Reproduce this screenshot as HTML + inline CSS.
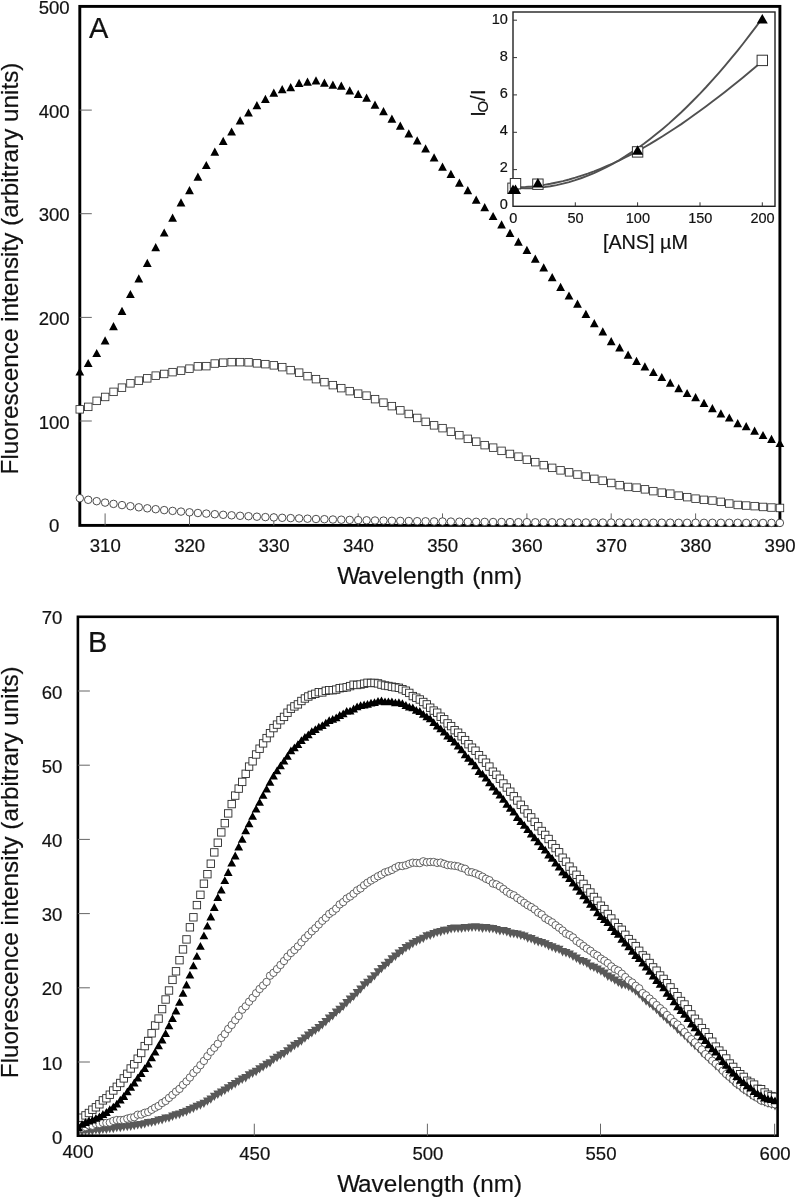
<!DOCTYPE html>
<html><head><meta charset="utf-8"><title>Fluorescence spectra</title>
<style>html,body{margin:0;padding:0;background:#fff}body{width:797px;height:1199px;overflow:hidden;font-family:"Liberation Sans",sans-serif}text{stroke:#111;stroke-width:.2px}</style></head>
<body>
<svg width="797" height="1199" viewBox="0 0 797 1199" style="display:block;will-change:transform" font-family="'Liberation Sans', sans-serif" fill="#111">
<rect width="797" height="1199" fill="#fff"/>
<rect x="79.8" y="6.4" width="700.1" height="519.0" fill="none" stroke="#000" stroke-width="2.9"/>
<path d="M79.8 421.0h12M79.8 317.4h12M79.8 213.7h12M79.8 110.1h12M105.1 525.4v-12M189.5 525.4v-12M273.8 525.4v-12M358.2 525.4v-12M442.5 525.4v-12M526.9 525.4v-12M611.2 525.4v-12M695.6 525.4v-12" stroke="#666" stroke-width="1" fill="none"/>
<g font-size="18.6px">
<text x="54.2" y="532.2" text-anchor="middle">0</text>
<text x="54.2" y="428.6" text-anchor="middle">100</text>
<text x="54.2" y="325.0" text-anchor="middle">200</text>
<text x="54.2" y="221.3" text-anchor="middle">300</text>
<text x="54.2" y="117.7" text-anchor="middle">400</text>
<text x="54.2" y="14.1" text-anchor="middle">500</text>
<text x="105.3" y="552" text-anchor="middle">310</text>
<text x="189.7" y="552" text-anchor="middle">320</text>
<text x="274.0" y="552" text-anchor="middle">330</text>
<text x="358.4" y="552" text-anchor="middle">340</text>
<text x="442.7" y="552" text-anchor="middle">350</text>
<text x="527.1" y="552" text-anchor="middle">360</text>
<text x="611.4" y="552" text-anchor="middle">370</text>
<text x="695.8" y="552" text-anchor="middle">380</text>
<text x="780.1" y="552" text-anchor="middle">390</text>
</g>
<text x="337.2" y="584.4" font-size="24.3px">W<tspan dx="-2.2" letter-spacing="0.12">avelength</tspan><tspan dx="1.1"> (nm)</tspan></text>
<text transform="translate(17.9 474.4) rotate(-90)" font-size="24.3px">Fluorescence intensity (arbitrary units)</text>
<text x="89" y="37.6" font-size="29px">A</text>
<g fill="#fff" stroke="#2e2e2e" stroke-width="0.85">
<circle cx="79.8" cy="498.2" r="3.75"/>
<circle cx="88.2" cy="499.8" r="3.75"/>
<circle cx="96.7" cy="501.2" r="3.75"/>
<circle cx="105.1" cy="502.6" r="3.75"/>
<circle cx="113.5" cy="503.9" r="3.75"/>
<circle cx="122.0" cy="505.1" r="3.75"/>
<circle cx="130.4" cy="506.2" r="3.75"/>
<circle cx="138.8" cy="507.3" r="3.75"/>
<circle cx="147.3" cy="508.3" r="3.75"/>
<circle cx="155.7" cy="509.2" r="3.75"/>
<circle cx="164.2" cy="510.1" r="3.75"/>
<circle cx="172.6" cy="510.9" r="3.75"/>
<circle cx="181.0" cy="511.6" r="3.75"/>
<circle cx="189.5" cy="512.3" r="3.75"/>
<circle cx="197.9" cy="513.0" r="3.75"/>
<circle cx="206.3" cy="513.6" r="3.75"/>
<circle cx="214.8" cy="514.2" r="3.75"/>
<circle cx="223.2" cy="514.8" r="3.75"/>
<circle cx="231.6" cy="515.3" r="3.75"/>
<circle cx="240.1" cy="515.8" r="3.75"/>
<circle cx="248.5" cy="516.2" r="3.75"/>
<circle cx="256.9" cy="516.7" r="3.75"/>
<circle cx="265.4" cy="517.1" r="3.75"/>
<circle cx="273.8" cy="517.4" r="3.75"/>
<circle cx="282.2" cy="517.8" r="3.75"/>
<circle cx="290.7" cy="518.1" r="3.75"/>
<circle cx="299.1" cy="518.4" r="3.75"/>
<circle cx="307.5" cy="518.7" r="3.75"/>
<circle cx="316.0" cy="519.0" r="3.75"/>
<circle cx="324.4" cy="519.2" r="3.75"/>
<circle cx="332.9" cy="519.5" r="3.75"/>
<circle cx="341.3" cy="519.7" r="3.75"/>
<circle cx="349.7" cy="519.9" r="3.75"/>
<circle cx="358.2" cy="520.1" r="3.75"/>
<circle cx="366.6" cy="520.3" r="3.75"/>
<circle cx="375.0" cy="520.5" r="3.75"/>
<circle cx="383.5" cy="520.6" r="3.75"/>
<circle cx="391.9" cy="520.8" r="3.75"/>
<circle cx="400.3" cy="520.9" r="3.75"/>
<circle cx="408.8" cy="521.0" r="3.75"/>
<circle cx="417.2" cy="521.2" r="3.75"/>
<circle cx="425.6" cy="521.3" r="3.75"/>
<circle cx="434.1" cy="521.4" r="3.75"/>
<circle cx="442.5" cy="521.5" r="3.75"/>
<circle cx="450.9" cy="521.6" r="3.75"/>
<circle cx="459.4" cy="521.7" r="3.75"/>
<circle cx="467.8" cy="521.8" r="3.75"/>
<circle cx="476.2" cy="521.8" r="3.75"/>
<circle cx="484.7" cy="521.9" r="3.75"/>
<circle cx="493.1" cy="522.0" r="3.75"/>
<circle cx="501.6" cy="522.0" r="3.75"/>
<circle cx="510.0" cy="522.1" r="3.75"/>
<circle cx="518.4" cy="522.2" r="3.75"/>
<circle cx="526.9" cy="522.2" r="3.75"/>
<circle cx="535.3" cy="522.3" r="3.75"/>
<circle cx="543.7" cy="522.3" r="3.75"/>
<circle cx="552.2" cy="522.3" r="3.75"/>
<circle cx="560.6" cy="522.4" r="3.75"/>
<circle cx="569.0" cy="522.4" r="3.75"/>
<circle cx="577.5" cy="522.5" r="3.75"/>
<circle cx="585.9" cy="522.5" r="3.75"/>
<circle cx="594.3" cy="522.5" r="3.75"/>
<circle cx="602.8" cy="522.6" r="3.75"/>
<circle cx="611.2" cy="522.6" r="3.75"/>
<circle cx="619.6" cy="522.6" r="3.75"/>
<circle cx="628.1" cy="522.6" r="3.75"/>
<circle cx="636.5" cy="522.7" r="3.75"/>
<circle cx="644.9" cy="522.7" r="3.75"/>
<circle cx="653.4" cy="522.7" r="3.75"/>
<circle cx="661.8" cy="522.7" r="3.75"/>
<circle cx="670.2" cy="522.7" r="3.75"/>
<circle cx="678.7" cy="522.8" r="3.75"/>
<circle cx="687.1" cy="522.8" r="3.75"/>
<circle cx="695.6" cy="522.8" r="3.75"/>
<circle cx="704.0" cy="522.8" r="3.75"/>
<circle cx="712.4" cy="522.8" r="3.75"/>
<circle cx="720.9" cy="522.8" r="3.75"/>
<circle cx="729.3" cy="522.8" r="3.75"/>
<circle cx="737.7" cy="522.8" r="3.75"/>
<circle cx="746.2" cy="522.9" r="3.75"/>
<circle cx="754.6" cy="522.9" r="3.75"/>
<circle cx="763.0" cy="522.9" r="3.75"/>
<circle cx="771.5" cy="522.9" r="3.75"/>
<circle cx="779.9" cy="522.9" r="3.75"/>
<rect x="76.0" y="405.6" width="7.5" height="7.5"/>
<rect x="84.5" y="403.1" width="7.5" height="7.5"/>
<rect x="92.9" y="397.1" width="7.5" height="7.5"/>
<rect x="101.4" y="393.2" width="7.5" height="7.5"/>
<rect x="109.8" y="388.1" width="7.5" height="7.5"/>
<rect x="118.2" y="383.9" width="7.5" height="7.5"/>
<rect x="126.7" y="379.6" width="7.5" height="7.5"/>
<rect x="135.1" y="376.9" width="7.5" height="7.5"/>
<rect x="143.5" y="374.6" width="7.5" height="7.5"/>
<rect x="152.0" y="371.9" width="7.5" height="7.5"/>
<rect x="160.4" y="370.2" width="7.5" height="7.5"/>
<rect x="168.8" y="368.4" width="7.5" height="7.5"/>
<rect x="177.3" y="366.9" width="7.5" height="7.5"/>
<rect x="185.7" y="364.9" width="7.5" height="7.5"/>
<rect x="194.1" y="362.6" width="7.5" height="7.5"/>
<rect x="202.6" y="362.4" width="7.5" height="7.5"/>
<rect x="211.0" y="359.8" width="7.5" height="7.5"/>
<rect x="219.4" y="358.9" width="7.5" height="7.5"/>
<rect x="227.9" y="358.4" width="7.5" height="7.5"/>
<rect x="236.3" y="358.4" width="7.5" height="7.5"/>
<rect x="244.8" y="358.6" width="7.5" height="7.5"/>
<rect x="253.2" y="359.6" width="7.5" height="7.5"/>
<rect x="261.6" y="360.4" width="7.5" height="7.5"/>
<rect x="270.1" y="361.6" width="7.5" height="7.5"/>
<rect x="278.5" y="363.4" width="7.5" height="7.5"/>
<rect x="286.9" y="366.4" width="7.5" height="7.5"/>
<rect x="295.4" y="368.9" width="7.5" height="7.5"/>
<rect x="303.8" y="372.4" width="7.5" height="7.5"/>
<rect x="312.2" y="375.4" width="7.5" height="7.5"/>
<rect x="320.7" y="378.4" width="7.5" height="7.5"/>
<rect x="329.1" y="381.4" width="7.5" height="7.5"/>
<rect x="337.5" y="384.4" width="7.5" height="7.5"/>
<rect x="346.0" y="387.4" width="7.5" height="7.5"/>
<rect x="354.4" y="389.9" width="7.5" height="7.5"/>
<rect x="362.8" y="391.9" width="7.5" height="7.5"/>
<rect x="371.3" y="395.4" width="7.5" height="7.5"/>
<rect x="379.7" y="398.9" width="7.5" height="7.5"/>
<rect x="388.1" y="402.4" width="7.5" height="7.5"/>
<rect x="396.6" y="406.6" width="7.5" height="7.5"/>
<rect x="405.0" y="410.2" width="7.5" height="7.5"/>
<rect x="413.5" y="414.2" width="7.5" height="7.5"/>
<rect x="421.9" y="418.1" width="7.5" height="7.5"/>
<rect x="430.3" y="421.6" width="7.5" height="7.5"/>
<rect x="438.8" y="424.4" width="7.5" height="7.5"/>
<rect x="447.2" y="427.9" width="7.5" height="7.5"/>
<rect x="455.6" y="431.4" width="7.5" height="7.5"/>
<rect x="464.1" y="435.1" width="7.5" height="7.5"/>
<rect x="472.5" y="437.9" width="7.5" height="7.5"/>
<rect x="480.9" y="441.4" width="7.5" height="7.5"/>
<rect x="489.4" y="443.9" width="7.5" height="7.5"/>
<rect x="497.8" y="447.1" width="7.5" height="7.5"/>
<rect x="506.2" y="450.2" width="7.5" height="7.5"/>
<rect x="514.7" y="452.9" width="7.5" height="7.5"/>
<rect x="523.1" y="455.9" width="7.5" height="7.5"/>
<rect x="531.5" y="458.4" width="7.5" height="7.5"/>
<rect x="540.0" y="461.4" width="7.5" height="7.5"/>
<rect x="548.4" y="464.1" width="7.5" height="7.5"/>
<rect x="556.8" y="466.6" width="7.5" height="7.5"/>
<rect x="565.3" y="468.6" width="7.5" height="7.5"/>
<rect x="573.7" y="470.8" width="7.5" height="7.5"/>
<rect x="582.1" y="472.8" width="7.5" height="7.5"/>
<rect x="590.6" y="475.1" width="7.5" height="7.5"/>
<rect x="599.0" y="476.9" width="7.5" height="7.5"/>
<rect x="607.5" y="479.2" width="7.5" height="7.5"/>
<rect x="615.9" y="481.4" width="7.5" height="7.5"/>
<rect x="624.3" y="483.2" width="7.5" height="7.5"/>
<rect x="632.8" y="483.9" width="7.5" height="7.5"/>
<rect x="641.2" y="485.6" width="7.5" height="7.5"/>
<rect x="649.6" y="487.4" width="7.5" height="7.5"/>
<rect x="658.1" y="488.9" width="7.5" height="7.5"/>
<rect x="666.5" y="489.9" width="7.5" height="7.5"/>
<rect x="674.9" y="491.9" width="7.5" height="7.5"/>
<rect x="683.4" y="493.4" width="7.5" height="7.5"/>
<rect x="691.8" y="494.9" width="7.5" height="7.5"/>
<rect x="700.2" y="496.1" width="7.5" height="7.5"/>
<rect x="708.7" y="496.8" width="7.5" height="7.5"/>
<rect x="717.1" y="498.1" width="7.5" height="7.5"/>
<rect x="725.5" y="499.8" width="7.5" height="7.5"/>
<rect x="734.0" y="501.2" width="7.5" height="7.5"/>
<rect x="742.4" y="501.8" width="7.5" height="7.5"/>
<rect x="750.9" y="502.4" width="7.5" height="7.5"/>
<rect x="759.3" y="503.2" width="7.5" height="7.5"/>
<rect x="767.7" y="503.8" width="7.5" height="7.5"/>
<rect x="776.2" y="504.2" width="7.5" height="7.5"/>
</g>
<path fill="#000" d="M75.4 375.6L84.2 375.6L79.8 367.4ZM83.8 367.1L92.6 367.1L88.2 358.9ZM92.3 357.1L101.1 357.1L96.7 348.9ZM100.7 344.4L109.5 344.4L105.1 336.2ZM109.1 330.2L117.9 330.2L113.5 322.0ZM117.6 314.9L126.4 314.9L122.0 306.7ZM126.0 298.1L134.8 298.1L130.4 289.9ZM134.4 282.5L143.2 282.5L138.8 274.3ZM142.9 266.9L151.7 266.9L147.3 258.7ZM151.3 251.3L160.1 251.3L155.7 243.1ZM159.8 236.6L168.6 236.6L164.2 228.4ZM168.2 221.8L177.0 221.8L172.6 213.6ZM176.6 206.5L185.4 206.5L181.0 198.3ZM185.1 194.3L193.9 194.3L189.5 186.1ZM193.5 180.7L202.3 180.7L197.9 172.5ZM201.9 169.1L210.7 169.1L206.3 160.9ZM210.4 155.7L219.2 155.7L214.8 147.5ZM218.8 145.0L227.6 145.0L223.2 136.8ZM227.2 135.6L236.0 135.6L231.6 127.4ZM235.7 124.5L244.5 124.5L240.1 116.3ZM244.1 116.6L252.9 116.6L248.5 108.4ZM252.5 109.3L261.3 109.3L256.9 101.1ZM261.0 102.9L269.8 102.9L265.4 94.7ZM269.4 96.7L278.2 96.7L273.8 88.5ZM277.8 93.2L286.6 93.2L282.2 85.0ZM286.3 91.2L295.1 91.2L290.7 83.0ZM294.7 86.9L303.5 86.9L299.1 78.7ZM303.1 85.7L311.9 85.7L307.5 77.5ZM311.6 84.4L320.4 84.4L316.0 76.2ZM320.0 86.7L328.8 86.7L324.4 78.5ZM328.5 88.7L337.2 88.7L332.9 80.5ZM336.9 89.7L345.7 89.7L341.3 81.5ZM345.3 94.5L354.1 94.5L349.7 86.3ZM353.8 98.0L362.6 98.0L358.2 89.8ZM362.2 101.7L371.0 101.7L366.6 93.5ZM370.6 108.8L379.4 108.8L375.0 100.6ZM379.1 115.3L387.9 115.3L383.5 107.1ZM387.5 122.8L396.3 122.8L391.9 114.6ZM395.9 129.8L404.7 129.8L400.3 121.6ZM404.4 137.4L413.2 137.4L408.8 129.2ZM412.8 144.4L421.6 144.4L417.2 136.2ZM421.2 152.4L430.0 152.4L425.6 144.2ZM429.7 161.5L438.5 161.5L434.1 153.3ZM438.1 170.8L446.9 170.8L442.5 162.6ZM446.5 178.0L455.3 178.0L450.9 169.8ZM455.0 186.7L463.8 186.7L459.4 178.5ZM463.4 194.3L472.2 194.3L467.8 186.1ZM471.8 203.8L480.6 203.8L476.2 195.6ZM480.3 211.3L489.1 211.3L484.7 203.1ZM488.7 220.1L497.5 220.1L493.1 211.9ZM497.2 228.4L505.9 228.4L501.6 220.2ZM505.6 236.9L514.4 236.9L510.0 228.7ZM514.0 245.7L522.8 245.7L518.4 237.5ZM522.5 254.0L531.3 254.0L526.9 245.8ZM530.9 262.8L539.7 262.8L535.3 254.6ZM539.3 271.5L548.1 271.5L543.7 263.3ZM547.8 281.3L556.6 281.3L552.2 273.1ZM556.2 290.9L565.0 290.9L560.6 282.7ZM564.6 299.6L573.4 299.6L569.0 291.4ZM573.1 307.7L581.9 307.7L577.5 299.5ZM581.5 318.0L590.3 318.0L585.9 309.8ZM589.9 327.3L598.7 327.3L594.3 319.1ZM598.4 335.4L607.2 335.4L602.8 327.2ZM606.8 345.2L615.6 345.2L611.2 337.0ZM615.2 351.5L624.0 351.5L619.6 343.3ZM623.7 358.8L632.5 358.8L628.1 350.6ZM632.1 365.0L640.9 365.0L636.5 356.8ZM640.5 370.4L649.3 370.4L644.9 362.2ZM649.0 376.1L657.8 376.1L653.4 367.9ZM657.4 381.1L666.2 381.1L661.8 372.9ZM665.9 386.7L674.6 386.7L670.2 378.5ZM674.3 392.2L683.1 392.2L678.7 384.0ZM682.7 397.1L691.5 397.1L687.1 388.9ZM691.2 401.3L700.0 401.3L695.6 393.1ZM699.6 407.0L708.4 407.0L704.0 398.8ZM708.0 412.2L716.8 412.2L712.4 404.0ZM716.5 417.4L725.3 417.4L720.9 409.2ZM724.9 421.6L733.7 421.6L729.3 413.4ZM733.3 427.3L742.1 427.3L737.7 419.1ZM741.8 430.2L750.6 430.2L746.2 422.0ZM750.2 434.7L759.0 434.7L754.6 426.5ZM758.6 439.1L767.4 439.1L763.0 430.9ZM767.1 442.9L775.9 442.9L771.5 434.7ZM775.5 447.1L784.3 447.1L779.9 438.9Z"/>
<rect x="513.0" y="12.0" width="262.0" height="194.3" fill="#fff" stroke="#222" stroke-width="1.4"/>
<path d="M513.0 169.6h4M513.0 132.3h4M513.0 94.9h4M513.0 57.6h4M513.0 20.2h4M575.3 206.3v-4M637.6 206.3v-4M700.0 206.3v-4M762.3 206.3v-4" stroke="#333" stroke-width="1" fill="none"/>
<g font-size="14.5px">
<text x="507.9" y="209.0" text-anchor="end">0</text>
<text x="507.9" y="171.9" text-anchor="end">2</text>
<text x="507.9" y="134.8" text-anchor="end">4</text>
<text x="507.9" y="97.8" text-anchor="end">6</text>
<text x="507.9" y="60.7" text-anchor="end">8</text>
<text x="507.9" y="23.6" text-anchor="end">10</text>
<text x="513.3" y="223.1" text-anchor="middle">0</text>
<text x="575.6" y="223.1" text-anchor="middle">50</text>
<text x="637.9" y="223.1" text-anchor="middle">100</text>
<text x="700.3" y="223.1" text-anchor="middle">150</text>
<text x="762.6" y="223.1" text-anchor="middle">200</text>
</g>
<text x="602.9" y="248.8" font-size="19.8px">[ANS] µM</text>
<g font-size="20px">
<text transform="translate(484.5 116.8) rotate(-90)">I</text>
<text transform="translate(487.6 112.6) rotate(-90)" font-size="15px">O</text>
<text transform="translate(484.5 101.0) rotate(-90)">/</text>
<text transform="translate(484.5 95.0) rotate(-90)">I</text>
</g>
<path d="M513.0 187.2L519.2 187.2L525.5 186.9L531.7 186.4L537.9 185.7L544.2 184.9L550.4 183.8L556.6 182.5L562.9 181.1L569.1 179.5L575.3 177.7L581.6 175.7L587.8 173.6L594.0 171.3L600.3 168.8L606.5 166.2L612.7 163.5L619.0 160.6L625.2 157.5L631.4 154.3L637.6 150.9L643.9 147.5L650.1 143.9L656.3 140.1L662.6 136.3L668.8 132.3L675.0 128.2L681.3 124.1L687.5 119.8L693.7 115.3L700.0 110.8L706.2 106.3L712.4 101.6L718.7 96.8L724.9 91.9L731.1 87.0L737.4 82.0L743.6 76.9L749.8 71.7L756.1 66.5L762.3 61.2" fill="none" stroke="#505050" stroke-width="1.9"/>
<path d="M513.0 187.7L519.2 188.1L525.5 188.3L531.7 188.2L537.9 187.8L544.2 187.1L550.4 186.2L556.6 185.1L562.9 183.7L569.1 182.1L575.3 180.2L581.6 178.0L587.8 175.7L594.0 173.1L600.3 170.2L606.5 167.1L612.7 163.8L619.0 160.2L625.2 156.4L631.4 152.4L637.6 148.2L643.9 143.7L650.1 139.0L656.3 134.1L662.6 128.9L668.8 123.6L675.0 118.0L681.3 112.2L687.5 106.2L693.7 100.0L700.0 93.6L706.2 87.0L712.4 80.1L718.7 73.1L724.9 65.9L731.1 58.4L737.4 50.8L743.6 43.0L749.8 34.9L756.1 26.7L762.3 18.3" fill="none" stroke="#505050" stroke-width="1.9"/>
<g fill="#fff" stroke="#333" stroke-width="1">
<rect x="507.8" y="183.1" width="10.4" height="10.4"/>
<rect x="510.3" y="178.5" width="10.4" height="10.4"/>
<rect x="532.7" y="179.0" width="10.4" height="10.4"/>
<rect x="632.4" y="146.7" width="10.4" height="10.4"/>
<rect x="757.1" y="55.2" width="10.4" height="10.4"/>
</g>
<path fill="#000" d="M507.5 194.1L518.5 194.1L513.0 184.5ZM510.0 194.1L521.0 194.1L515.5 184.5ZM532.4 187.5L543.4 187.5L537.9 177.9ZM632.1 154.8L643.1 154.8L637.6 145.2ZM756.8 23.5L767.8 23.5L762.3 13.9Z"/>
<clipPath id="cb"><rect x="77.9" y="616.8" width="699.7" height="518.9"/></clipPath>
<g clip-path="url(#cb)">
<path fill="#585858" d="M74.1 1127.8L82.9 1127.8L78.5 1136.2ZM77.6 1128.0L86.4 1128.0L82.0 1136.4ZM81.1 1127.1L89.9 1127.1L85.5 1135.5ZM84.5 1127.4L93.3 1127.4L88.9 1135.8ZM88.0 1127.1L96.8 1127.1L92.4 1135.5ZM91.5 1126.2L100.3 1126.2L95.9 1134.6ZM95.0 1126.5L103.8 1126.5L99.4 1134.9ZM98.5 1125.7L107.3 1125.7L102.9 1134.1ZM102.0 1125.6L110.8 1125.6L106.4 1134.0ZM105.4 1124.8L114.2 1124.8L109.8 1133.2ZM108.9 1124.8L117.7 1124.8L113.3 1133.2ZM112.4 1123.8L121.2 1123.8L116.8 1132.2ZM115.9 1123.9L124.7 1123.9L120.3 1132.3ZM119.4 1123.1L128.2 1123.1L123.8 1131.5ZM122.9 1122.8L131.7 1122.8L127.3 1131.2ZM126.3 1122.5L135.1 1122.5L130.7 1130.9ZM129.8 1121.9L138.6 1121.9L134.2 1130.3ZM133.3 1121.2L142.1 1121.2L137.7 1129.6ZM136.8 1120.9L145.6 1120.9L141.2 1129.3ZM140.3 1120.2L149.1 1120.2L144.7 1128.6ZM143.8 1118.9L152.6 1118.9L148.2 1127.3ZM147.2 1118.7L156.0 1118.7L151.6 1127.1ZM150.7 1117.9L159.5 1117.9L155.1 1126.3ZM154.2 1116.6L163.0 1116.6L158.6 1125.0ZM157.7 1116.0L166.5 1116.0L162.1 1124.4ZM161.2 1114.5L170.0 1114.5L165.6 1122.9ZM164.6 1114.2L173.4 1114.2L169.0 1122.6ZM168.1 1112.5L176.9 1112.5L172.5 1120.9ZM171.6 1111.3L180.4 1111.3L176.0 1119.7ZM175.1 1110.6L183.9 1110.6L179.5 1119.0ZM178.6 1108.9L187.4 1108.9L183.0 1117.3ZM182.1 1107.8L190.9 1107.8L186.5 1116.2ZM185.5 1105.9L194.3 1105.9L189.9 1114.3ZM189.0 1104.5L197.8 1104.5L193.4 1112.9ZM192.5 1102.7L201.3 1102.7L196.9 1111.1ZM196.0 1101.3L204.8 1101.3L200.4 1109.7ZM199.5 1099.7L208.3 1099.7L203.9 1108.1ZM203.0 1097.4L211.8 1097.4L207.4 1105.8ZM206.4 1095.4L215.2 1095.4L210.8 1103.8ZM209.9 1092.7L218.7 1092.7L214.3 1101.1ZM213.4 1090.6L222.2 1090.6L217.8 1099.0ZM216.9 1088.5L225.7 1088.5L221.3 1096.9ZM220.4 1086.6L229.2 1086.6L224.8 1095.0ZM223.8 1084.3L232.6 1084.3L228.2 1092.7ZM227.3 1082.0L236.1 1082.0L231.7 1090.4ZM230.8 1080.1L239.6 1080.1L235.2 1088.5ZM234.3 1077.7L243.1 1077.7L238.7 1086.1ZM237.8 1075.6L246.6 1075.6L242.2 1084.0ZM241.3 1074.0L250.1 1074.0L245.7 1082.4ZM244.7 1071.3L253.5 1071.3L249.1 1079.7ZM248.2 1069.5L257.0 1069.5L252.6 1077.9ZM251.7 1067.8L260.5 1067.8L256.1 1076.2ZM255.2 1065.2L264.0 1065.2L259.6 1073.6ZM258.7 1063.2L267.5 1063.2L263.1 1071.6ZM262.2 1060.7L271.0 1060.7L266.6 1069.1ZM265.6 1059.2L274.4 1059.2L270.0 1067.6ZM269.1 1055.7L277.9 1055.7L273.5 1064.1ZM272.6 1053.8L281.4 1053.8L277.0 1062.2ZM276.1 1051.5L284.9 1051.5L280.5 1059.9ZM279.6 1049.9L288.4 1049.9L284.0 1058.3ZM283.1 1047.2L291.8 1047.2L287.4 1055.6ZM286.5 1044.6L295.3 1044.6L290.9 1053.0ZM290.0 1041.8L298.8 1041.8L294.4 1050.2ZM293.5 1039.9L302.3 1039.9L297.9 1048.3ZM297.0 1037.3L305.8 1037.3L301.4 1045.7ZM300.5 1034.4L309.3 1034.4L304.9 1042.8ZM303.9 1031.6L312.7 1031.6L308.3 1040.0ZM307.4 1029.0L316.2 1029.0L311.8 1037.4ZM310.9 1026.7L319.7 1026.7L315.3 1035.1ZM314.4 1024.0L323.2 1024.0L318.8 1032.4ZM317.9 1021.0L326.7 1021.0L322.3 1029.4ZM321.4 1018.1L330.2 1018.1L325.8 1026.5ZM324.8 1014.6L333.6 1014.6L329.2 1023.0ZM328.3 1012.1L337.1 1012.1L332.7 1020.5ZM331.8 1008.6L340.6 1008.6L336.2 1017.0ZM335.3 1005.7L344.1 1005.7L339.7 1014.1ZM338.8 1002.6L347.6 1002.6L343.2 1011.0ZM342.3 999.0L351.1 999.0L346.7 1007.4ZM345.7 995.5L354.5 995.5L350.1 1003.9ZM349.2 992.7L358.0 992.7L353.6 1001.1ZM352.7 989.1L361.5 989.1L357.1 997.5ZM356.2 985.4L365.0 985.4L360.6 993.8ZM359.7 981.3L368.5 981.3L364.1 989.7ZM363.1 978.7L371.9 978.7L367.5 987.1ZM366.6 975.4L375.4 975.4L371.0 983.8ZM370.1 972.2L378.9 972.2L374.5 980.6ZM373.6 968.2L382.4 968.2L378.0 976.6ZM377.1 964.9L385.9 964.9L381.5 973.3ZM380.6 961.7L389.4 961.7L385.0 970.1ZM384.0 958.8L392.8 958.8L388.4 967.2ZM387.5 955.2L396.3 955.2L391.9 963.6ZM391.0 952.5L399.8 952.5L395.4 960.9ZM394.5 949.4L403.3 949.4L398.9 957.8ZM398.0 947.1L406.8 947.1L402.4 955.5ZM401.5 944.1L410.3 944.1L405.9 952.5ZM404.9 942.3L413.7 942.3L409.3 950.7ZM408.4 939.8L417.2 939.8L412.8 948.2ZM411.9 937.9L420.7 937.9L416.3 946.3ZM415.4 936.2L424.2 936.2L419.8 944.6ZM418.9 934.7L427.7 934.7L423.3 943.1ZM422.4 932.2L431.1 932.2L426.8 940.6ZM425.8 931.5L434.6 931.5L430.2 939.9ZM429.3 930.1L438.1 930.1L433.7 938.5ZM432.8 928.7L441.6 928.7L437.2 937.1ZM436.3 928.1L445.1 928.1L440.7 936.5ZM439.8 926.8L448.6 926.8L444.2 935.2ZM443.2 926.4L452.0 926.4L447.6 934.8ZM446.7 925.1L455.5 925.1L451.1 933.5ZM450.2 924.5L459.0 924.5L454.6 932.9ZM453.7 924.7L462.5 924.7L458.1 933.1ZM457.2 924.6L466.0 924.6L461.6 933.0ZM460.7 924.0L469.5 924.0L465.1 932.4ZM464.1 923.9L472.9 923.9L468.5 932.3ZM467.6 923.5L476.4 923.5L472.0 931.9ZM471.1 923.3L479.9 923.3L475.5 931.7ZM474.6 923.8L483.4 923.8L479.0 932.2ZM478.1 924.6L486.9 924.6L482.5 933.0ZM481.6 924.0L490.4 924.0L486.0 932.4ZM485.0 924.8L493.8 924.8L489.4 933.2ZM488.5 924.9L497.3 924.9L492.9 933.3ZM492.0 926.1L500.8 926.1L496.4 934.5ZM495.5 927.0L504.3 927.0L499.9 935.4ZM499.0 927.1L507.8 927.1L503.4 935.5ZM502.4 928.1L511.2 928.1L506.8 936.5ZM505.9 929.5L514.7 929.5L510.3 937.9ZM509.4 929.9L518.2 929.9L513.8 938.3ZM512.9 930.6L521.7 930.6L517.3 939.0ZM516.4 931.5L525.2 931.5L520.8 939.9ZM519.9 932.4L528.7 932.4L524.3 940.8ZM523.3 934.3L532.1 934.3L527.7 942.7ZM526.8 935.1L535.6 935.1L531.2 943.5ZM530.3 936.8L539.1 936.8L534.7 945.2ZM533.8 938.0L542.6 938.0L538.2 946.4ZM537.3 938.9L546.1 938.9L541.7 947.3ZM540.8 940.2L549.6 940.2L545.2 948.6ZM544.2 942.0L553.0 942.0L548.6 950.4ZM547.7 943.3L556.5 943.3L552.1 951.7ZM551.2 944.8L560.0 944.8L555.6 953.2ZM554.7 945.7L563.5 945.7L559.1 954.1ZM558.2 948.1L567.0 948.1L562.6 956.5ZM561.6 949.1L570.4 949.1L566.0 957.5ZM565.1 950.4L573.9 950.4L569.5 958.8ZM568.6 952.5L577.4 952.5L573.0 960.9ZM572.1 954.6L580.9 954.6L576.5 963.0ZM575.6 956.9L584.4 956.9L580.0 965.3ZM579.1 957.9L587.9 957.9L583.5 966.3ZM582.5 959.5L591.3 959.5L586.9 967.9ZM586.0 962.4L594.8 962.4L590.4 970.8ZM589.5 963.7L598.3 963.7L593.9 972.1ZM593.0 965.6L601.8 965.6L597.4 974.0ZM596.5 967.4L605.3 967.4L600.9 975.8ZM600.0 969.5L608.8 969.5L604.4 977.9ZM603.4 972.5L612.2 972.5L607.8 980.9ZM606.9 974.2L615.7 974.2L611.3 982.6ZM610.4 976.4L619.2 976.4L614.8 984.8ZM613.9 978.7L622.7 978.7L618.3 987.1ZM617.4 980.8L626.2 980.8L621.8 989.2ZM620.9 981.0L629.7 981.0L625.3 989.4ZM624.3 982.8L633.1 982.8L628.7 991.2ZM627.8 984.8L636.6 984.8L632.2 993.2ZM631.3 987.4L640.1 987.4L635.7 995.8ZM634.8 990.4L643.6 990.4L639.2 998.8ZM638.3 994.0L647.1 994.0L642.7 1002.4ZM641.7 997.3L650.5 997.3L646.1 1005.7ZM645.2 999.8L654.0 999.8L649.6 1008.2ZM648.7 1002.7L657.5 1002.7L653.1 1011.1ZM652.2 1005.8L661.0 1005.8L656.6 1014.2ZM655.7 1009.4L664.5 1009.4L660.1 1017.8ZM659.2 1012.6L668.0 1012.6L663.6 1021.0ZM662.6 1015.8L671.4 1015.8L667.0 1024.2ZM666.1 1019.0L674.9 1019.0L670.5 1027.4ZM669.6 1021.7L678.4 1021.7L674.0 1030.1ZM673.1 1025.5L681.9 1025.5L677.5 1033.9ZM676.6 1028.5L685.4 1028.5L681.0 1036.9ZM680.1 1031.7L688.9 1031.7L684.5 1040.1ZM683.5 1035.2L692.3 1035.2L687.9 1043.6ZM687.0 1038.8L695.8 1038.8L691.4 1047.2ZM690.5 1041.9L699.3 1041.9L694.9 1050.3ZM694.0 1044.9L702.8 1044.9L698.4 1053.3ZM697.5 1048.9L706.3 1048.9L701.9 1057.3ZM701.0 1051.8L709.8 1051.8L705.4 1060.2ZM704.4 1055.0L713.2 1055.0L708.8 1063.4ZM707.9 1058.2L716.7 1058.2L712.3 1066.6ZM711.4 1062.0L720.2 1062.0L715.8 1070.4ZM714.9 1064.9L723.7 1064.9L719.3 1073.3ZM718.4 1068.2L727.2 1068.2L722.8 1076.6ZM721.8 1071.6L730.6 1071.6L726.2 1080.0ZM725.3 1074.7L734.1 1074.7L729.7 1083.1ZM728.8 1078.1L737.6 1078.1L733.2 1086.5ZM732.3 1080.8L741.1 1080.8L736.7 1089.2ZM735.8 1083.4L744.6 1083.4L740.2 1091.8ZM739.3 1086.1L748.1 1086.1L743.7 1094.5ZM742.7 1088.5L751.5 1088.5L747.1 1096.9ZM746.2 1091.2L755.0 1091.2L750.6 1099.6ZM749.7 1093.1L758.5 1093.1L754.1 1101.5ZM753.2 1094.9L762.0 1094.9L757.6 1103.3ZM756.7 1097.1L765.5 1097.1L761.1 1105.5ZM760.2 1098.4L769.0 1098.4L764.6 1106.8ZM763.6 1099.7L772.4 1099.7L768.0 1108.1ZM767.1 1100.5L775.9 1100.5L771.5 1108.9ZM770.6 1102.1L779.4 1102.1L775.0 1110.5Z"/>
<g fill="#fff" stroke="#333" stroke-width="0.75">
<circle cx="78.5" cy="1128.7" r="3.7"/>
<circle cx="82.0" cy="1128.3" r="3.7"/>
<circle cx="85.5" cy="1127.0" r="3.7"/>
<circle cx="88.9" cy="1125.3" r="3.7"/>
<circle cx="92.4" cy="1125.7" r="3.7"/>
<circle cx="95.9" cy="1124.0" r="3.7"/>
<circle cx="99.4" cy="1124.0" r="3.7"/>
<circle cx="102.9" cy="1122.8" r="3.7"/>
<circle cx="106.4" cy="1122.9" r="3.7"/>
<circle cx="109.8" cy="1122.5" r="3.7"/>
<circle cx="113.3" cy="1120.9" r="3.7"/>
<circle cx="116.8" cy="1120.0" r="3.7"/>
<circle cx="120.3" cy="1120.1" r="3.7"/>
<circle cx="123.8" cy="1119.9" r="3.7"/>
<circle cx="127.3" cy="1118.6" r="3.7"/>
<circle cx="130.7" cy="1117.7" r="3.7"/>
<circle cx="134.2" cy="1117.2" r="3.7"/>
<circle cx="137.7" cy="1114.7" r="3.7"/>
<circle cx="141.2" cy="1114.5" r="3.7"/>
<circle cx="144.7" cy="1112.8" r="3.7"/>
<circle cx="148.2" cy="1112.0" r="3.7"/>
<circle cx="151.6" cy="1109.8" r="3.7"/>
<circle cx="155.1" cy="1107.7" r="3.7"/>
<circle cx="158.6" cy="1105.9" r="3.7"/>
<circle cx="162.1" cy="1103.0" r="3.7"/>
<circle cx="165.6" cy="1101.0" r="3.7"/>
<circle cx="169.0" cy="1097.9" r="3.7"/>
<circle cx="172.5" cy="1094.9" r="3.7"/>
<circle cx="176.0" cy="1091.6" r="3.7"/>
<circle cx="179.5" cy="1088.9" r="3.7"/>
<circle cx="183.0" cy="1084.8" r="3.7"/>
<circle cx="186.5" cy="1081.4" r="3.7"/>
<circle cx="189.9" cy="1077.5" r="3.7"/>
<circle cx="193.4" cy="1073.0" r="3.7"/>
<circle cx="196.9" cy="1069.5" r="3.7"/>
<circle cx="200.4" cy="1065.2" r="3.7"/>
<circle cx="203.9" cy="1060.9" r="3.7"/>
<circle cx="207.4" cy="1056.2" r="3.7"/>
<circle cx="210.8" cy="1051.7" r="3.7"/>
<circle cx="214.3" cy="1047.8" r="3.7"/>
<circle cx="217.8" cy="1043.8" r="3.7"/>
<circle cx="221.3" cy="1037.9" r="3.7"/>
<circle cx="224.8" cy="1034.0" r="3.7"/>
<circle cx="228.2" cy="1029.0" r="3.7"/>
<circle cx="231.7" cy="1024.9" r="3.7"/>
<circle cx="235.2" cy="1020.2" r="3.7"/>
<circle cx="238.7" cy="1015.9" r="3.7"/>
<circle cx="242.2" cy="1009.7" r="3.7"/>
<circle cx="245.7" cy="1006.3" r="3.7"/>
<circle cx="249.1" cy="1001.7" r="3.7"/>
<circle cx="252.6" cy="997.8" r="3.7"/>
<circle cx="256.1" cy="993.2" r="3.7"/>
<circle cx="259.6" cy="989.0" r="3.7"/>
<circle cx="263.1" cy="985.5" r="3.7"/>
<circle cx="266.6" cy="981.9" r="3.7"/>
<circle cx="270.0" cy="975.7" r="3.7"/>
<circle cx="273.5" cy="972.8" r="3.7"/>
<circle cx="277.0" cy="969.1" r="3.7"/>
<circle cx="280.5" cy="965.0" r="3.7"/>
<circle cx="284.0" cy="961.0" r="3.7"/>
<circle cx="287.4" cy="956.7" r="3.7"/>
<circle cx="290.9" cy="953.0" r="3.7"/>
<circle cx="294.4" cy="950.0" r="3.7"/>
<circle cx="297.9" cy="946.4" r="3.7"/>
<circle cx="301.4" cy="942.3" r="3.7"/>
<circle cx="304.9" cy="938.2" r="3.7"/>
<circle cx="308.3" cy="935.0" r="3.7"/>
<circle cx="311.8" cy="931.3" r="3.7"/>
<circle cx="315.3" cy="928.2" r="3.7"/>
<circle cx="318.8" cy="924.5" r="3.7"/>
<circle cx="322.3" cy="920.8" r="3.7"/>
<circle cx="325.8" cy="917.8" r="3.7"/>
<circle cx="329.2" cy="913.9" r="3.7"/>
<circle cx="332.7" cy="911.6" r="3.7"/>
<circle cx="336.2" cy="908.6" r="3.7"/>
<circle cx="339.7" cy="904.4" r="3.7"/>
<circle cx="343.2" cy="902.1" r="3.7"/>
<circle cx="346.7" cy="898.5" r="3.7"/>
<circle cx="350.1" cy="896.5" r="3.7"/>
<circle cx="353.6" cy="893.7" r="3.7"/>
<circle cx="357.1" cy="890.4" r="3.7"/>
<circle cx="360.6" cy="888.4" r="3.7"/>
<circle cx="364.1" cy="885.2" r="3.7"/>
<circle cx="367.5" cy="882.7" r="3.7"/>
<circle cx="371.0" cy="880.5" r="3.7"/>
<circle cx="374.5" cy="878.5" r="3.7"/>
<circle cx="378.0" cy="876.3" r="3.7"/>
<circle cx="381.5" cy="874.6" r="3.7"/>
<circle cx="385.0" cy="872.4" r="3.7"/>
<circle cx="388.4" cy="871.3" r="3.7"/>
<circle cx="391.9" cy="869.9" r="3.7"/>
<circle cx="395.4" cy="867.8" r="3.7"/>
<circle cx="398.9" cy="866.1" r="3.7"/>
<circle cx="402.4" cy="866.0" r="3.7"/>
<circle cx="405.9" cy="865.2" r="3.7"/>
<circle cx="409.3" cy="863.8" r="3.7"/>
<circle cx="412.8" cy="862.7" r="3.7"/>
<circle cx="416.3" cy="862.9" r="3.7"/>
<circle cx="419.8" cy="863.1" r="3.7"/>
<circle cx="423.3" cy="861.3" r="3.7"/>
<circle cx="426.8" cy="862.3" r="3.7"/>
<circle cx="430.2" cy="862.0" r="3.7"/>
<circle cx="433.7" cy="862.0" r="3.7"/>
<circle cx="437.2" cy="862.9" r="3.7"/>
<circle cx="440.7" cy="862.6" r="3.7"/>
<circle cx="444.2" cy="863.9" r="3.7"/>
<circle cx="447.6" cy="865.1" r="3.7"/>
<circle cx="451.1" cy="865.4" r="3.7"/>
<circle cx="454.6" cy="865.8" r="3.7"/>
<circle cx="458.1" cy="866.4" r="3.7"/>
<circle cx="461.6" cy="867.8" r="3.7"/>
<circle cx="465.1" cy="868.8" r="3.7"/>
<circle cx="468.5" cy="871.7" r="3.7"/>
<circle cx="472.0" cy="872.3" r="3.7"/>
<circle cx="475.5" cy="873.4" r="3.7"/>
<circle cx="479.0" cy="874.9" r="3.7"/>
<circle cx="482.5" cy="876.7" r="3.7"/>
<circle cx="486.0" cy="878.8" r="3.7"/>
<circle cx="489.4" cy="880.2" r="3.7"/>
<circle cx="492.9" cy="883.5" r="3.7"/>
<circle cx="496.4" cy="884.4" r="3.7"/>
<circle cx="499.9" cy="886.4" r="3.7"/>
<circle cx="503.4" cy="889.0" r="3.7"/>
<circle cx="506.8" cy="891.7" r="3.7"/>
<circle cx="510.3" cy="893.9" r="3.7"/>
<circle cx="513.8" cy="895.3" r="3.7"/>
<circle cx="517.3" cy="898.0" r="3.7"/>
<circle cx="520.8" cy="900.3" r="3.7"/>
<circle cx="524.3" cy="902.9" r="3.7"/>
<circle cx="527.7" cy="905.2" r="3.7"/>
<circle cx="531.2" cy="907.1" r="3.7"/>
<circle cx="534.7" cy="909.4" r="3.7"/>
<circle cx="538.2" cy="912.6" r="3.7"/>
<circle cx="541.7" cy="914.5" r="3.7"/>
<circle cx="545.2" cy="918.2" r="3.7"/>
<circle cx="548.6" cy="920.2" r="3.7"/>
<circle cx="552.1" cy="922.3" r="3.7"/>
<circle cx="555.6" cy="925.2" r="3.7"/>
<circle cx="559.1" cy="927.7" r="3.7"/>
<circle cx="562.6" cy="930.5" r="3.7"/>
<circle cx="566.0" cy="933.6" r="3.7"/>
<circle cx="569.5" cy="935.1" r="3.7"/>
<circle cx="573.0" cy="937.4" r="3.7"/>
<circle cx="576.5" cy="941.0" r="3.7"/>
<circle cx="580.0" cy="943.3" r="3.7"/>
<circle cx="583.5" cy="946.0" r="3.7"/>
<circle cx="586.9" cy="948.6" r="3.7"/>
<circle cx="590.4" cy="950.8" r="3.7"/>
<circle cx="593.9" cy="953.8" r="3.7"/>
<circle cx="597.4" cy="955.6" r="3.7"/>
<circle cx="600.9" cy="958.6" r="3.7"/>
<circle cx="604.4" cy="960.7" r="3.7"/>
<circle cx="607.8" cy="963.1" r="3.7"/>
<circle cx="611.3" cy="966.4" r="3.7"/>
<circle cx="614.8" cy="969.0" r="3.7"/>
<circle cx="618.3" cy="970.6" r="3.7"/>
<circle cx="621.8" cy="973.7" r="3.7"/>
<circle cx="625.3" cy="977.1" r="3.7"/>
<circle cx="628.7" cy="980.3" r="3.7"/>
<circle cx="632.2" cy="982.5" r="3.7"/>
<circle cx="635.7" cy="985.8" r="3.7"/>
<circle cx="639.2" cy="988.3" r="3.7"/>
<circle cx="642.7" cy="993.1" r="3.7"/>
<circle cx="646.1" cy="995.3" r="3.7"/>
<circle cx="649.6" cy="998.6" r="3.7"/>
<circle cx="653.1" cy="1001.7" r="3.7"/>
<circle cx="656.6" cy="1005.1" r="3.7"/>
<circle cx="660.1" cy="1008.2" r="3.7"/>
<circle cx="663.6" cy="1011.2" r="3.7"/>
<circle cx="667.0" cy="1015.0" r="3.7"/>
<circle cx="670.5" cy="1018.1" r="3.7"/>
<circle cx="674.0" cy="1022.0" r="3.7"/>
<circle cx="677.5" cy="1024.5" r="3.7"/>
<circle cx="681.0" cy="1028.1" r="3.7"/>
<circle cx="684.5" cy="1032.1" r="3.7"/>
<circle cx="687.9" cy="1036.0" r="3.7"/>
<circle cx="691.4" cy="1039.2" r="3.7"/>
<circle cx="694.9" cy="1042.4" r="3.7"/>
<circle cx="698.4" cy="1046.2" r="3.7"/>
<circle cx="701.9" cy="1049.5" r="3.7"/>
<circle cx="705.4" cy="1054.1" r="3.7"/>
<circle cx="708.8" cy="1057.1" r="3.7"/>
<circle cx="712.3" cy="1060.7" r="3.7"/>
<circle cx="715.8" cy="1063.7" r="3.7"/>
<circle cx="719.3" cy="1066.7" r="3.7"/>
<circle cx="722.8" cy="1070.7" r="3.7"/>
<circle cx="726.2" cy="1074.1" r="3.7"/>
<circle cx="729.7" cy="1076.9" r="3.7"/>
<circle cx="733.2" cy="1079.8" r="3.7"/>
<circle cx="736.7" cy="1083.4" r="3.7"/>
<circle cx="740.2" cy="1085.6" r="3.7"/>
<circle cx="743.7" cy="1088.8" r="3.7"/>
<circle cx="747.1" cy="1090.8" r="3.7"/>
<circle cx="750.6" cy="1093.1" r="3.7"/>
<circle cx="754.1" cy="1096.0" r="3.7"/>
<circle cx="757.6" cy="1097.9" r="3.7"/>
<circle cx="761.1" cy="1100.5" r="3.7"/>
<circle cx="764.6" cy="1101.2" r="3.7"/>
<circle cx="768.0" cy="1102.8" r="3.7"/>
<circle cx="771.5" cy="1103.6" r="3.7"/>
<circle cx="775.0" cy="1104.3" r="3.7"/>
</g>
<g fill="#fff" stroke="#2a2a2a" stroke-width="0.9">
<rect x="74.8" y="1117.4" width="7.4" height="7.4"/>
<rect x="78.3" y="1114.0" width="7.4" height="7.4"/>
<rect x="81.8" y="1111.7" width="7.4" height="7.4"/>
<rect x="85.2" y="1109.3" width="7.4" height="7.4"/>
<rect x="88.7" y="1106.0" width="7.4" height="7.4"/>
<rect x="92.2" y="1103.6" width="7.4" height="7.4"/>
<rect x="95.7" y="1100.6" width="7.4" height="7.4"/>
<rect x="99.2" y="1096.7" width="7.4" height="7.4"/>
<rect x="102.7" y="1094.6" width="7.4" height="7.4"/>
<rect x="106.1" y="1091.0" width="7.4" height="7.4"/>
<rect x="109.6" y="1086.8" width="7.4" height="7.4"/>
<rect x="113.1" y="1083.1" width="7.4" height="7.4"/>
<rect x="116.6" y="1079.3" width="7.4" height="7.4"/>
<rect x="120.1" y="1074.7" width="7.4" height="7.4"/>
<rect x="123.6" y="1070.1" width="7.4" height="7.4"/>
<rect x="127.0" y="1064.8" width="7.4" height="7.4"/>
<rect x="130.5" y="1060.6" width="7.4" height="7.4"/>
<rect x="134.0" y="1055.0" width="7.4" height="7.4"/>
<rect x="137.5" y="1049.3" width="7.4" height="7.4"/>
<rect x="141.0" y="1042.4" width="7.4" height="7.4"/>
<rect x="144.5" y="1037.3" width="7.4" height="7.4"/>
<rect x="147.9" y="1029.6" width="7.4" height="7.4"/>
<rect x="151.4" y="1021.8" width="7.4" height="7.4"/>
<rect x="154.9" y="1014.9" width="7.4" height="7.4"/>
<rect x="158.4" y="1005.4" width="7.4" height="7.4"/>
<rect x="161.9" y="995.8" width="7.4" height="7.4"/>
<rect x="165.3" y="986.8" width="7.4" height="7.4"/>
<rect x="168.8" y="976.2" width="7.4" height="7.4"/>
<rect x="172.3" y="967.6" width="7.4" height="7.4"/>
<rect x="175.8" y="956.5" width="7.4" height="7.4"/>
<rect x="179.3" y="945.7" width="7.4" height="7.4"/>
<rect x="182.8" y="935.7" width="7.4" height="7.4"/>
<rect x="186.2" y="923.6" width="7.4" height="7.4"/>
<rect x="189.7" y="913.6" width="7.4" height="7.4"/>
<rect x="193.2" y="901.4" width="7.4" height="7.4"/>
<rect x="196.7" y="891.1" width="7.4" height="7.4"/>
<rect x="200.2" y="880.0" width="7.4" height="7.4"/>
<rect x="203.7" y="870.5" width="7.4" height="7.4"/>
<rect x="207.1" y="860.0" width="7.4" height="7.4"/>
<rect x="210.6" y="848.7" width="7.4" height="7.4"/>
<rect x="214.1" y="839.0" width="7.4" height="7.4"/>
<rect x="217.6" y="828.7" width="7.4" height="7.4"/>
<rect x="221.1" y="819.5" width="7.4" height="7.4"/>
<rect x="224.5" y="809.7" width="7.4" height="7.4"/>
<rect x="228.0" y="800.4" width="7.4" height="7.4"/>
<rect x="231.5" y="791.9" width="7.4" height="7.4"/>
<rect x="235.0" y="784.9" width="7.4" height="7.4"/>
<rect x="238.5" y="778.2" width="7.4" height="7.4"/>
<rect x="242.0" y="770.1" width="7.4" height="7.4"/>
<rect x="245.4" y="762.9" width="7.4" height="7.4"/>
<rect x="248.9" y="757.6" width="7.4" height="7.4"/>
<rect x="252.4" y="750.8" width="7.4" height="7.4"/>
<rect x="255.9" y="745.0" width="7.4" height="7.4"/>
<rect x="259.4" y="739.7" width="7.4" height="7.4"/>
<rect x="262.9" y="734.4" width="7.4" height="7.4"/>
<rect x="266.3" y="729.5" width="7.4" height="7.4"/>
<rect x="269.8" y="724.4" width="7.4" height="7.4"/>
<rect x="273.3" y="720.9" width="7.4" height="7.4"/>
<rect x="276.8" y="716.5" width="7.4" height="7.4"/>
<rect x="280.3" y="713.2" width="7.4" height="7.4"/>
<rect x="283.8" y="709.0" width="7.4" height="7.4"/>
<rect x="287.2" y="705.0" width="7.4" height="7.4"/>
<rect x="290.7" y="702.7" width="7.4" height="7.4"/>
<rect x="294.2" y="700.7" width="7.4" height="7.4"/>
<rect x="297.7" y="697.3" width="7.4" height="7.4"/>
<rect x="301.2" y="694.8" width="7.4" height="7.4"/>
<rect x="304.6" y="692.8" width="7.4" height="7.4"/>
<rect x="308.1" y="691.2" width="7.4" height="7.4"/>
<rect x="311.6" y="690.1" width="7.4" height="7.4"/>
<rect x="315.1" y="688.5" width="7.4" height="7.4"/>
<rect x="318.6" y="688.7" width="7.4" height="7.4"/>
<rect x="322.1" y="687.1" width="7.4" height="7.4"/>
<rect x="325.5" y="686.5" width="7.4" height="7.4"/>
<rect x="329.0" y="686.5" width="7.4" height="7.4"/>
<rect x="332.5" y="685.9" width="7.4" height="7.4"/>
<rect x="336.0" y="684.5" width="7.4" height="7.4"/>
<rect x="339.5" y="684.1" width="7.4" height="7.4"/>
<rect x="343.0" y="683.6" width="7.4" height="7.4"/>
<rect x="346.4" y="682.4" width="7.4" height="7.4"/>
<rect x="349.9" y="681.0" width="7.4" height="7.4"/>
<rect x="353.4" y="681.3" width="7.4" height="7.4"/>
<rect x="356.9" y="680.8" width="7.4" height="7.4"/>
<rect x="360.4" y="680.0" width="7.4" height="7.4"/>
<rect x="363.8" y="679.1" width="7.4" height="7.4"/>
<rect x="367.3" y="679.3" width="7.4" height="7.4"/>
<rect x="370.8" y="679.2" width="7.4" height="7.4"/>
<rect x="374.3" y="679.7" width="7.4" height="7.4"/>
<rect x="377.8" y="680.9" width="7.4" height="7.4"/>
<rect x="381.3" y="681.8" width="7.4" height="7.4"/>
<rect x="384.7" y="682.3" width="7.4" height="7.4"/>
<rect x="388.2" y="683.0" width="7.4" height="7.4"/>
<rect x="391.7" y="683.6" width="7.4" height="7.4"/>
<rect x="395.2" y="684.1" width="7.4" height="7.4"/>
<rect x="398.7" y="685.5" width="7.4" height="7.4"/>
<rect x="402.2" y="687.0" width="7.4" height="7.4"/>
<rect x="405.6" y="689.2" width="7.4" height="7.4"/>
<rect x="409.1" y="692.4" width="7.4" height="7.4"/>
<rect x="412.6" y="694.0" width="7.4" height="7.4"/>
<rect x="416.1" y="695.8" width="7.4" height="7.4"/>
<rect x="419.6" y="698.3" width="7.4" height="7.4"/>
<rect x="423.1" y="700.7" width="7.4" height="7.4"/>
<rect x="426.5" y="704.0" width="7.4" height="7.4"/>
<rect x="430.0" y="706.9" width="7.4" height="7.4"/>
<rect x="433.5" y="709.0" width="7.4" height="7.4"/>
<rect x="437.0" y="713.0" width="7.4" height="7.4"/>
<rect x="440.5" y="715.6" width="7.4" height="7.4"/>
<rect x="443.9" y="719.7" width="7.4" height="7.4"/>
<rect x="447.4" y="722.4" width="7.4" height="7.4"/>
<rect x="450.9" y="726.5" width="7.4" height="7.4"/>
<rect x="454.4" y="729.0" width="7.4" height="7.4"/>
<rect x="457.9" y="732.6" width="7.4" height="7.4"/>
<rect x="461.4" y="736.4" width="7.4" height="7.4"/>
<rect x="464.8" y="740.5" width="7.4" height="7.4"/>
<rect x="468.3" y="744.0" width="7.4" height="7.4"/>
<rect x="471.8" y="747.0" width="7.4" height="7.4"/>
<rect x="475.3" y="751.5" width="7.4" height="7.4"/>
<rect x="478.8" y="755.3" width="7.4" height="7.4"/>
<rect x="482.3" y="759.0" width="7.4" height="7.4"/>
<rect x="485.7" y="762.9" width="7.4" height="7.4"/>
<rect x="489.2" y="768.0" width="7.4" height="7.4"/>
<rect x="492.7" y="771.1" width="7.4" height="7.4"/>
<rect x="496.2" y="775.0" width="7.4" height="7.4"/>
<rect x="499.7" y="779.8" width="7.4" height="7.4"/>
<rect x="503.1" y="783.8" width="7.4" height="7.4"/>
<rect x="506.6" y="788.0" width="7.4" height="7.4"/>
<rect x="510.1" y="792.6" width="7.4" height="7.4"/>
<rect x="513.6" y="796.8" width="7.4" height="7.4"/>
<rect x="517.1" y="801.1" width="7.4" height="7.4"/>
<rect x="520.6" y="805.7" width="7.4" height="7.4"/>
<rect x="524.0" y="809.7" width="7.4" height="7.4"/>
<rect x="527.5" y="813.7" width="7.4" height="7.4"/>
<rect x="531.0" y="818.2" width="7.4" height="7.4"/>
<rect x="534.5" y="822.6" width="7.4" height="7.4"/>
<rect x="538.0" y="827.3" width="7.4" height="7.4"/>
<rect x="541.5" y="831.2" width="7.4" height="7.4"/>
<rect x="544.9" y="835.3" width="7.4" height="7.4"/>
<rect x="548.4" y="840.6" width="7.4" height="7.4"/>
<rect x="551.9" y="844.4" width="7.4" height="7.4"/>
<rect x="555.4" y="848.6" width="7.4" height="7.4"/>
<rect x="558.9" y="854.0" width="7.4" height="7.4"/>
<rect x="562.3" y="858.0" width="7.4" height="7.4"/>
<rect x="565.8" y="862.9" width="7.4" height="7.4"/>
<rect x="569.3" y="866.9" width="7.4" height="7.4"/>
<rect x="572.8" y="871.1" width="7.4" height="7.4"/>
<rect x="576.3" y="875.5" width="7.4" height="7.4"/>
<rect x="579.8" y="880.2" width="7.4" height="7.4"/>
<rect x="583.2" y="884.7" width="7.4" height="7.4"/>
<rect x="586.7" y="888.8" width="7.4" height="7.4"/>
<rect x="590.2" y="893.3" width="7.4" height="7.4"/>
<rect x="593.7" y="897.1" width="7.4" height="7.4"/>
<rect x="597.2" y="902.0" width="7.4" height="7.4"/>
<rect x="600.7" y="905.4" width="7.4" height="7.4"/>
<rect x="604.1" y="910.3" width="7.4" height="7.4"/>
<rect x="607.6" y="914.8" width="7.4" height="7.4"/>
<rect x="611.1" y="919.1" width="7.4" height="7.4"/>
<rect x="614.6" y="923.5" width="7.4" height="7.4"/>
<rect x="618.1" y="926.1" width="7.4" height="7.4"/>
<rect x="621.6" y="931.1" width="7.4" height="7.4"/>
<rect x="625.0" y="935.4" width="7.4" height="7.4"/>
<rect x="628.5" y="939.3" width="7.4" height="7.4"/>
<rect x="632.0" y="942.4" width="7.4" height="7.4"/>
<rect x="635.5" y="947.1" width="7.4" height="7.4"/>
<rect x="639.0" y="951.7" width="7.4" height="7.4"/>
<rect x="642.4" y="954.2" width="7.4" height="7.4"/>
<rect x="645.9" y="959.3" width="7.4" height="7.4"/>
<rect x="649.4" y="963.7" width="7.4" height="7.4"/>
<rect x="652.9" y="967.0" width="7.4" height="7.4"/>
<rect x="656.4" y="971.8" width="7.4" height="7.4"/>
<rect x="659.9" y="975.2" width="7.4" height="7.4"/>
<rect x="663.3" y="979.5" width="7.4" height="7.4"/>
<rect x="666.8" y="983.7" width="7.4" height="7.4"/>
<rect x="670.3" y="988.4" width="7.4" height="7.4"/>
<rect x="673.8" y="992.5" width="7.4" height="7.4"/>
<rect x="677.3" y="997.3" width="7.4" height="7.4"/>
<rect x="680.8" y="1000.8" width="7.4" height="7.4"/>
<rect x="684.2" y="1005.6" width="7.4" height="7.4"/>
<rect x="687.7" y="1010.7" width="7.4" height="7.4"/>
<rect x="691.2" y="1015.1" width="7.4" height="7.4"/>
<rect x="694.7" y="1018.9" width="7.4" height="7.4"/>
<rect x="698.2" y="1024.4" width="7.4" height="7.4"/>
<rect x="701.6" y="1028.6" width="7.4" height="7.4"/>
<rect x="705.1" y="1033.5" width="7.4" height="7.4"/>
<rect x="708.6" y="1038.0" width="7.4" height="7.4"/>
<rect x="712.1" y="1042.9" width="7.4" height="7.4"/>
<rect x="715.6" y="1046.9" width="7.4" height="7.4"/>
<rect x="719.1" y="1050.3" width="7.4" height="7.4"/>
<rect x="722.5" y="1054.8" width="7.4" height="7.4"/>
<rect x="726.0" y="1059.8" width="7.4" height="7.4"/>
<rect x="729.5" y="1063.2" width="7.4" height="7.4"/>
<rect x="733.0" y="1067.4" width="7.4" height="7.4"/>
<rect x="736.5" y="1070.5" width="7.4" height="7.4"/>
<rect x="740.0" y="1073.2" width="7.4" height="7.4"/>
<rect x="743.4" y="1077.1" width="7.4" height="7.4"/>
<rect x="746.9" y="1078.9" width="7.4" height="7.4"/>
<rect x="750.4" y="1080.9" width="7.4" height="7.4"/>
<rect x="753.9" y="1085.1" width="7.4" height="7.4"/>
<rect x="757.4" y="1085.5" width="7.4" height="7.4"/>
<rect x="760.9" y="1088.8" width="7.4" height="7.4"/>
<rect x="764.3" y="1091.0" width="7.4" height="7.4"/>
<rect x="767.8" y="1092.4" width="7.4" height="7.4"/>
<rect x="771.3" y="1093.1" width="7.4" height="7.4"/>
</g>
<path fill="#000" d="M74.1 1131.1L82.9 1131.1L78.5 1123.3ZM77.6 1127.8L86.4 1127.8L82.0 1120.0ZM81.1 1125.9L89.9 1125.9L85.5 1118.1ZM84.5 1124.6L93.3 1124.6L88.9 1116.8ZM88.0 1123.5L96.8 1123.5L92.4 1115.7ZM91.5 1121.7L100.3 1121.7L95.9 1113.9ZM95.0 1120.3L103.8 1120.3L99.4 1112.5ZM98.5 1117.9L107.3 1117.9L102.9 1110.1ZM102.0 1115.9L110.8 1115.9L106.4 1108.1ZM105.4 1113.0L114.2 1113.0L109.8 1105.2ZM108.9 1110.5L117.7 1110.5L113.3 1102.7ZM112.4 1107.6L121.2 1107.6L116.8 1099.8ZM115.9 1103.5L124.7 1103.5L120.3 1095.7ZM119.4 1099.9L128.2 1099.9L123.8 1092.1ZM122.9 1095.2L131.7 1095.2L127.3 1087.4ZM126.3 1090.7L135.1 1090.7L130.7 1082.9ZM129.8 1086.4L138.6 1086.4L134.2 1078.6ZM133.3 1081.6L142.1 1081.6L137.7 1073.8ZM136.8 1077.1L145.6 1077.1L141.2 1069.3ZM140.3 1072.0L149.1 1072.0L144.7 1064.2ZM143.8 1067.5L152.6 1067.5L148.2 1059.7ZM147.2 1061.2L156.0 1061.2L151.6 1053.4ZM150.7 1055.6L159.5 1055.6L155.1 1047.8ZM154.2 1049.2L163.0 1049.2L158.6 1041.4ZM157.7 1043.4L166.5 1043.4L162.1 1035.6ZM161.2 1037.0L170.0 1037.0L165.6 1029.2ZM164.6 1029.2L173.4 1029.2L169.0 1021.4ZM168.1 1022.0L176.9 1022.0L172.5 1014.2ZM171.6 1014.4L180.4 1014.4L176.0 1006.6ZM175.1 1005.7L183.9 1005.7L179.5 997.9ZM178.6 996.8L187.4 996.8L183.0 989.0ZM182.1 988.4L190.9 988.4L186.5 980.6ZM185.5 978.6L194.3 978.6L189.9 970.8ZM189.0 969.2L197.8 969.2L193.4 961.4ZM192.5 959.7L201.3 959.7L196.9 951.9ZM196.0 949.8L204.8 949.8L200.4 942.0ZM199.5 939.3L208.3 939.3L203.9 931.5ZM203.0 929.6L211.8 929.6L207.4 921.8ZM206.4 920.4L215.2 920.4L210.8 912.6ZM209.9 910.9L218.7 910.9L214.3 903.1ZM213.4 901.0L222.2 901.0L217.8 893.2ZM216.9 893.5L225.7 893.5L221.3 885.7ZM220.4 884.1L229.2 884.1L224.8 876.3ZM223.8 875.9L232.6 875.9L228.2 868.1ZM227.3 866.6L236.1 866.6L231.7 858.8ZM230.8 859.4L239.6 859.4L235.2 851.6ZM234.3 850.4L243.1 850.4L238.7 842.6ZM237.8 842.7L246.6 842.7L242.2 834.9ZM241.3 834.3L250.1 834.3L245.7 826.5ZM244.7 827.2L253.5 827.2L249.1 819.4ZM248.2 819.7L257.0 819.7L252.6 811.9ZM251.7 812.5L260.5 812.5L256.1 804.7ZM255.2 805.8L264.0 805.8L259.6 798.0ZM258.7 798.8L267.5 798.8L263.1 791.0ZM262.2 792.6L271.0 792.6L266.6 784.8ZM265.6 785.7L274.4 785.7L270.0 777.9ZM269.1 779.5L277.9 779.5L273.5 771.7ZM272.6 774.3L281.4 774.3L277.0 766.5ZM276.1 769.3L284.9 769.3L280.5 761.5ZM279.6 764.6L288.4 764.6L284.0 756.8ZM283.1 759.8L291.8 759.8L287.4 752.0ZM286.5 754.3L295.3 754.3L290.9 746.5ZM290.0 751.3L298.8 751.3L294.4 743.5ZM293.5 748.1L302.3 748.1L297.9 740.3ZM297.0 744.1L305.8 744.1L301.4 736.3ZM300.5 740.7L309.3 740.7L304.9 732.9ZM303.9 738.2L312.7 738.2L308.3 730.4ZM307.4 735.1L316.2 735.1L311.8 727.3ZM310.9 733.1L319.7 733.1L315.3 725.3ZM314.4 730.5L323.2 730.5L318.8 722.7ZM317.9 729.0L326.7 729.0L322.3 721.2ZM321.4 726.6L330.2 726.6L325.8 718.8ZM324.8 724.1L333.6 724.1L329.2 716.3ZM328.3 722.8L337.1 722.8L332.7 715.0ZM331.8 721.2L340.6 721.2L336.2 713.4ZM335.3 718.9L344.1 718.9L339.7 711.1ZM338.8 717.2L347.6 717.2L343.2 709.4ZM342.3 714.8L351.1 714.8L346.7 707.0ZM345.7 714.6L354.5 714.6L350.1 706.8ZM349.2 712.4L358.0 712.4L353.6 704.6ZM352.7 710.2L361.5 710.2L357.1 702.4ZM356.2 709.0L365.0 709.0L360.6 701.2ZM359.7 708.4L368.5 708.4L364.1 700.6ZM363.1 707.8L371.9 707.8L367.5 700.0ZM366.6 706.5L375.4 706.5L371.0 698.7ZM370.1 706.0L378.9 706.0L374.5 698.2ZM373.6 704.7L382.4 704.7L378.0 696.9ZM377.1 704.3L385.9 704.3L381.5 696.5ZM380.6 705.2L389.4 705.2L385.0 697.4ZM384.0 705.3L392.8 705.3L388.4 697.5ZM387.5 705.3L396.3 705.3L391.9 697.5ZM391.0 706.3L399.8 706.3L395.4 698.5ZM394.5 706.0L403.3 706.0L398.9 698.2ZM398.0 707.1L406.8 707.1L402.4 699.3ZM401.5 708.9L410.3 708.9L405.9 701.1ZM404.9 710.6L413.7 710.6L409.3 702.8ZM408.4 711.3L417.2 711.3L412.8 703.5ZM411.9 713.8L420.7 713.8L416.3 706.0ZM415.4 714.9L424.2 714.9L419.8 707.1ZM418.9 717.8L427.7 717.8L423.3 710.0ZM422.4 720.2L431.1 720.2L426.8 712.4ZM425.8 722.3L434.6 722.3L430.2 714.5ZM429.3 726.1L438.1 726.1L433.7 718.3ZM432.8 729.5L441.6 729.5L437.2 721.7ZM436.3 732.2L445.1 732.2L440.7 724.4ZM439.8 735.5L448.6 735.5L444.2 727.7ZM443.2 739.6L452.0 739.6L447.6 731.8ZM446.7 742.0L455.5 742.0L451.1 734.2ZM450.2 745.5L459.0 745.5L454.6 737.7ZM453.7 749.6L462.5 749.6L458.1 741.8ZM457.2 753.2L466.0 753.2L461.6 745.4ZM460.7 758.2L469.5 758.2L465.1 750.4ZM464.1 761.8L472.9 761.8L468.5 754.0ZM467.6 765.2L476.4 765.2L472.0 757.4ZM471.1 769.3L479.9 769.3L475.5 761.5ZM474.6 775.0L483.4 775.0L479.0 767.2ZM478.1 777.5L486.9 777.5L482.5 769.7ZM481.6 781.6L490.4 781.6L486.0 773.8ZM485.0 786.3L493.8 786.3L489.4 778.5ZM488.5 790.6L497.3 790.6L492.9 782.8ZM492.0 794.7L500.8 794.7L496.4 786.9ZM495.5 798.5L504.3 798.5L499.9 790.7ZM499.0 802.7L507.8 802.7L503.4 794.9ZM502.4 807.8L511.2 807.8L506.8 800.0ZM505.9 811.8L514.7 811.8L510.3 804.0ZM509.4 815.4L518.2 815.4L513.8 807.6ZM512.9 820.9L521.7 820.9L517.3 813.1ZM516.4 825.0L525.2 825.0L520.8 817.2ZM519.9 828.8L528.7 828.8L524.3 821.0ZM523.3 833.1L532.1 833.1L527.7 825.3ZM526.8 837.5L535.6 837.5L531.2 829.7ZM530.3 841.3L539.1 841.3L534.7 833.5ZM533.8 845.2L542.6 845.2L538.2 837.4ZM537.3 850.1L546.1 850.1L541.7 842.3ZM540.8 853.5L549.6 853.5L545.2 845.7ZM544.2 858.5L553.0 858.5L548.6 850.7ZM547.7 861.8L556.5 861.8L552.1 854.0ZM551.2 866.5L560.0 866.5L555.6 858.7ZM554.7 870.5L563.5 870.5L559.1 862.7ZM558.2 875.5L567.0 875.5L562.6 867.7ZM561.6 878.3L570.4 878.3L566.0 870.5ZM565.1 882.1L573.9 882.1L569.5 874.3ZM568.6 886.6L577.4 886.6L573.0 878.8ZM572.1 890.4L580.9 890.4L576.5 882.6ZM575.6 894.7L584.4 894.7L580.0 886.9ZM579.1 899.2L587.9 899.2L583.5 891.4ZM582.5 903.4L591.3 903.4L586.9 895.6ZM586.0 907.8L594.8 907.8L590.4 900.0ZM589.5 910.8L598.3 910.8L593.9 903.0ZM593.0 916.3L601.8 916.3L597.4 908.5ZM596.5 920.0L605.3 920.0L600.9 912.2ZM600.0 922.9L608.8 922.9L604.4 915.1ZM603.4 926.0L612.2 926.0L607.8 918.2ZM606.9 930.9L615.7 930.9L611.3 923.1ZM610.4 934.9L619.2 934.9L614.8 927.1ZM613.9 937.8L622.7 937.8L618.3 930.0ZM617.4 942.8L626.2 942.8L621.8 935.0ZM620.9 946.6L629.7 946.6L625.3 938.8ZM624.3 950.2L633.1 950.2L628.7 942.4ZM627.8 954.8L636.6 954.8L632.2 947.0ZM631.3 958.9L640.1 958.9L635.7 951.1ZM634.8 962.1L643.6 962.1L639.2 954.3ZM638.3 966.6L647.1 966.6L642.7 958.8ZM641.7 970.5L650.5 970.5L646.1 962.7ZM645.2 974.7L654.0 974.7L649.6 966.9ZM648.7 979.4L657.5 979.4L653.1 971.6ZM652.2 983.9L661.0 983.9L656.6 976.1ZM655.7 987.7L664.5 987.7L660.1 979.9ZM659.2 991.2L668.0 991.2L663.6 983.4ZM662.6 996.8L671.4 996.8L667.0 989.0ZM666.1 1000.1L674.9 1000.1L670.5 992.3ZM669.6 1005.3L678.4 1005.3L674.0 997.5ZM673.1 1010.3L681.9 1010.3L677.5 1002.5ZM676.6 1013.9L685.4 1013.9L681.0 1006.1ZM680.1 1017.7L688.9 1017.7L684.5 1009.9ZM683.5 1022.0L692.3 1022.0L687.9 1014.2ZM687.0 1027.4L695.8 1027.4L691.4 1019.6ZM690.5 1031.2L699.3 1031.2L694.9 1023.4ZM694.0 1035.7L702.8 1035.7L698.4 1027.9ZM697.5 1040.2L706.3 1040.2L701.9 1032.4ZM701.0 1044.1L709.8 1044.1L705.4 1036.3ZM704.4 1048.2L713.2 1048.2L708.8 1040.4ZM707.9 1052.2L716.7 1052.2L712.3 1044.4ZM711.4 1055.4L720.2 1055.4L715.8 1047.6ZM714.9 1060.2L723.7 1060.2L719.3 1052.4ZM718.4 1064.9L727.2 1064.9L722.8 1057.1ZM721.8 1068.8L730.6 1068.8L726.2 1061.0ZM725.3 1072.9L734.1 1072.9L729.7 1065.1ZM728.8 1076.4L737.6 1076.4L733.2 1068.6ZM732.3 1080.1L741.1 1080.1L736.7 1072.3ZM735.8 1083.7L744.6 1083.7L740.2 1075.9ZM739.3 1086.0L748.1 1086.0L743.7 1078.2ZM742.7 1089.3L751.5 1089.3L747.1 1081.5ZM746.2 1091.4L755.0 1091.4L750.6 1083.6ZM749.7 1095.1L758.5 1095.1L754.1 1087.3ZM753.2 1097.0L762.0 1097.0L757.6 1089.2ZM756.7 1099.3L765.5 1099.3L761.1 1091.5ZM760.2 1101.4L769.0 1101.4L764.6 1093.6ZM763.6 1102.5L772.4 1102.5L768.0 1094.7ZM767.1 1103.1L775.9 1103.1L771.5 1095.3ZM770.6 1104.3L779.4 1104.3L775.0 1096.5Z"/>
</g>
<rect x="77.9" y="616.8" width="699.7" height="518.9" fill="none" stroke="#000" stroke-width="2.6"/>
<path d="M77.9 1062.0h12M77.9 987.8h12M77.9 913.6h12M77.9 839.4h12M77.9 765.2h12M77.9 691.0h12M254.3 1135.7v-12M427.4 1135.7v-12M600.5 1135.7v-12M774.6 1135.7v-12" stroke="#666" stroke-width="1" fill="none"/>
<g font-size="18.6px">
<text x="62.4" y="1143.8" text-anchor="end">0</text>
<text x="62.4" y="1069.6" text-anchor="end">10</text>
<text x="62.4" y="995.4" text-anchor="end">20</text>
<text x="62.4" y="921.2" text-anchor="end">30</text>
<text x="62.4" y="847.0" text-anchor="end">40</text>
<text x="62.4" y="772.8" text-anchor="end">50</text>
<text x="62.4" y="698.6" text-anchor="end">60</text>
<text x="62.4" y="624.4" text-anchor="end">70</text>
<text x="78.0" y="1157.6" text-anchor="middle">400</text>
<text x="254.8" y="1160.3" text-anchor="middle">450</text>
<text x="427.9" y="1160.3" text-anchor="middle">500</text>
<text x="601.0" y="1160.3" text-anchor="middle">550</text>
<text x="775.1" y="1160.3" text-anchor="middle">600</text>
</g>
<text x="337.2" y="1192.2" font-size="24.3px">W<tspan dx="-2.2" letter-spacing="0.12">avelength</tspan><tspan dx="1.1"> (nm)</tspan></text>
<text transform="translate(17.9 1078.2) rotate(-90)" font-size="24.3px">Fluorescence intensity (arbitrary units)</text>
<text x="88" y="652" font-size="29px">B</text>
</svg>
</body></html>
